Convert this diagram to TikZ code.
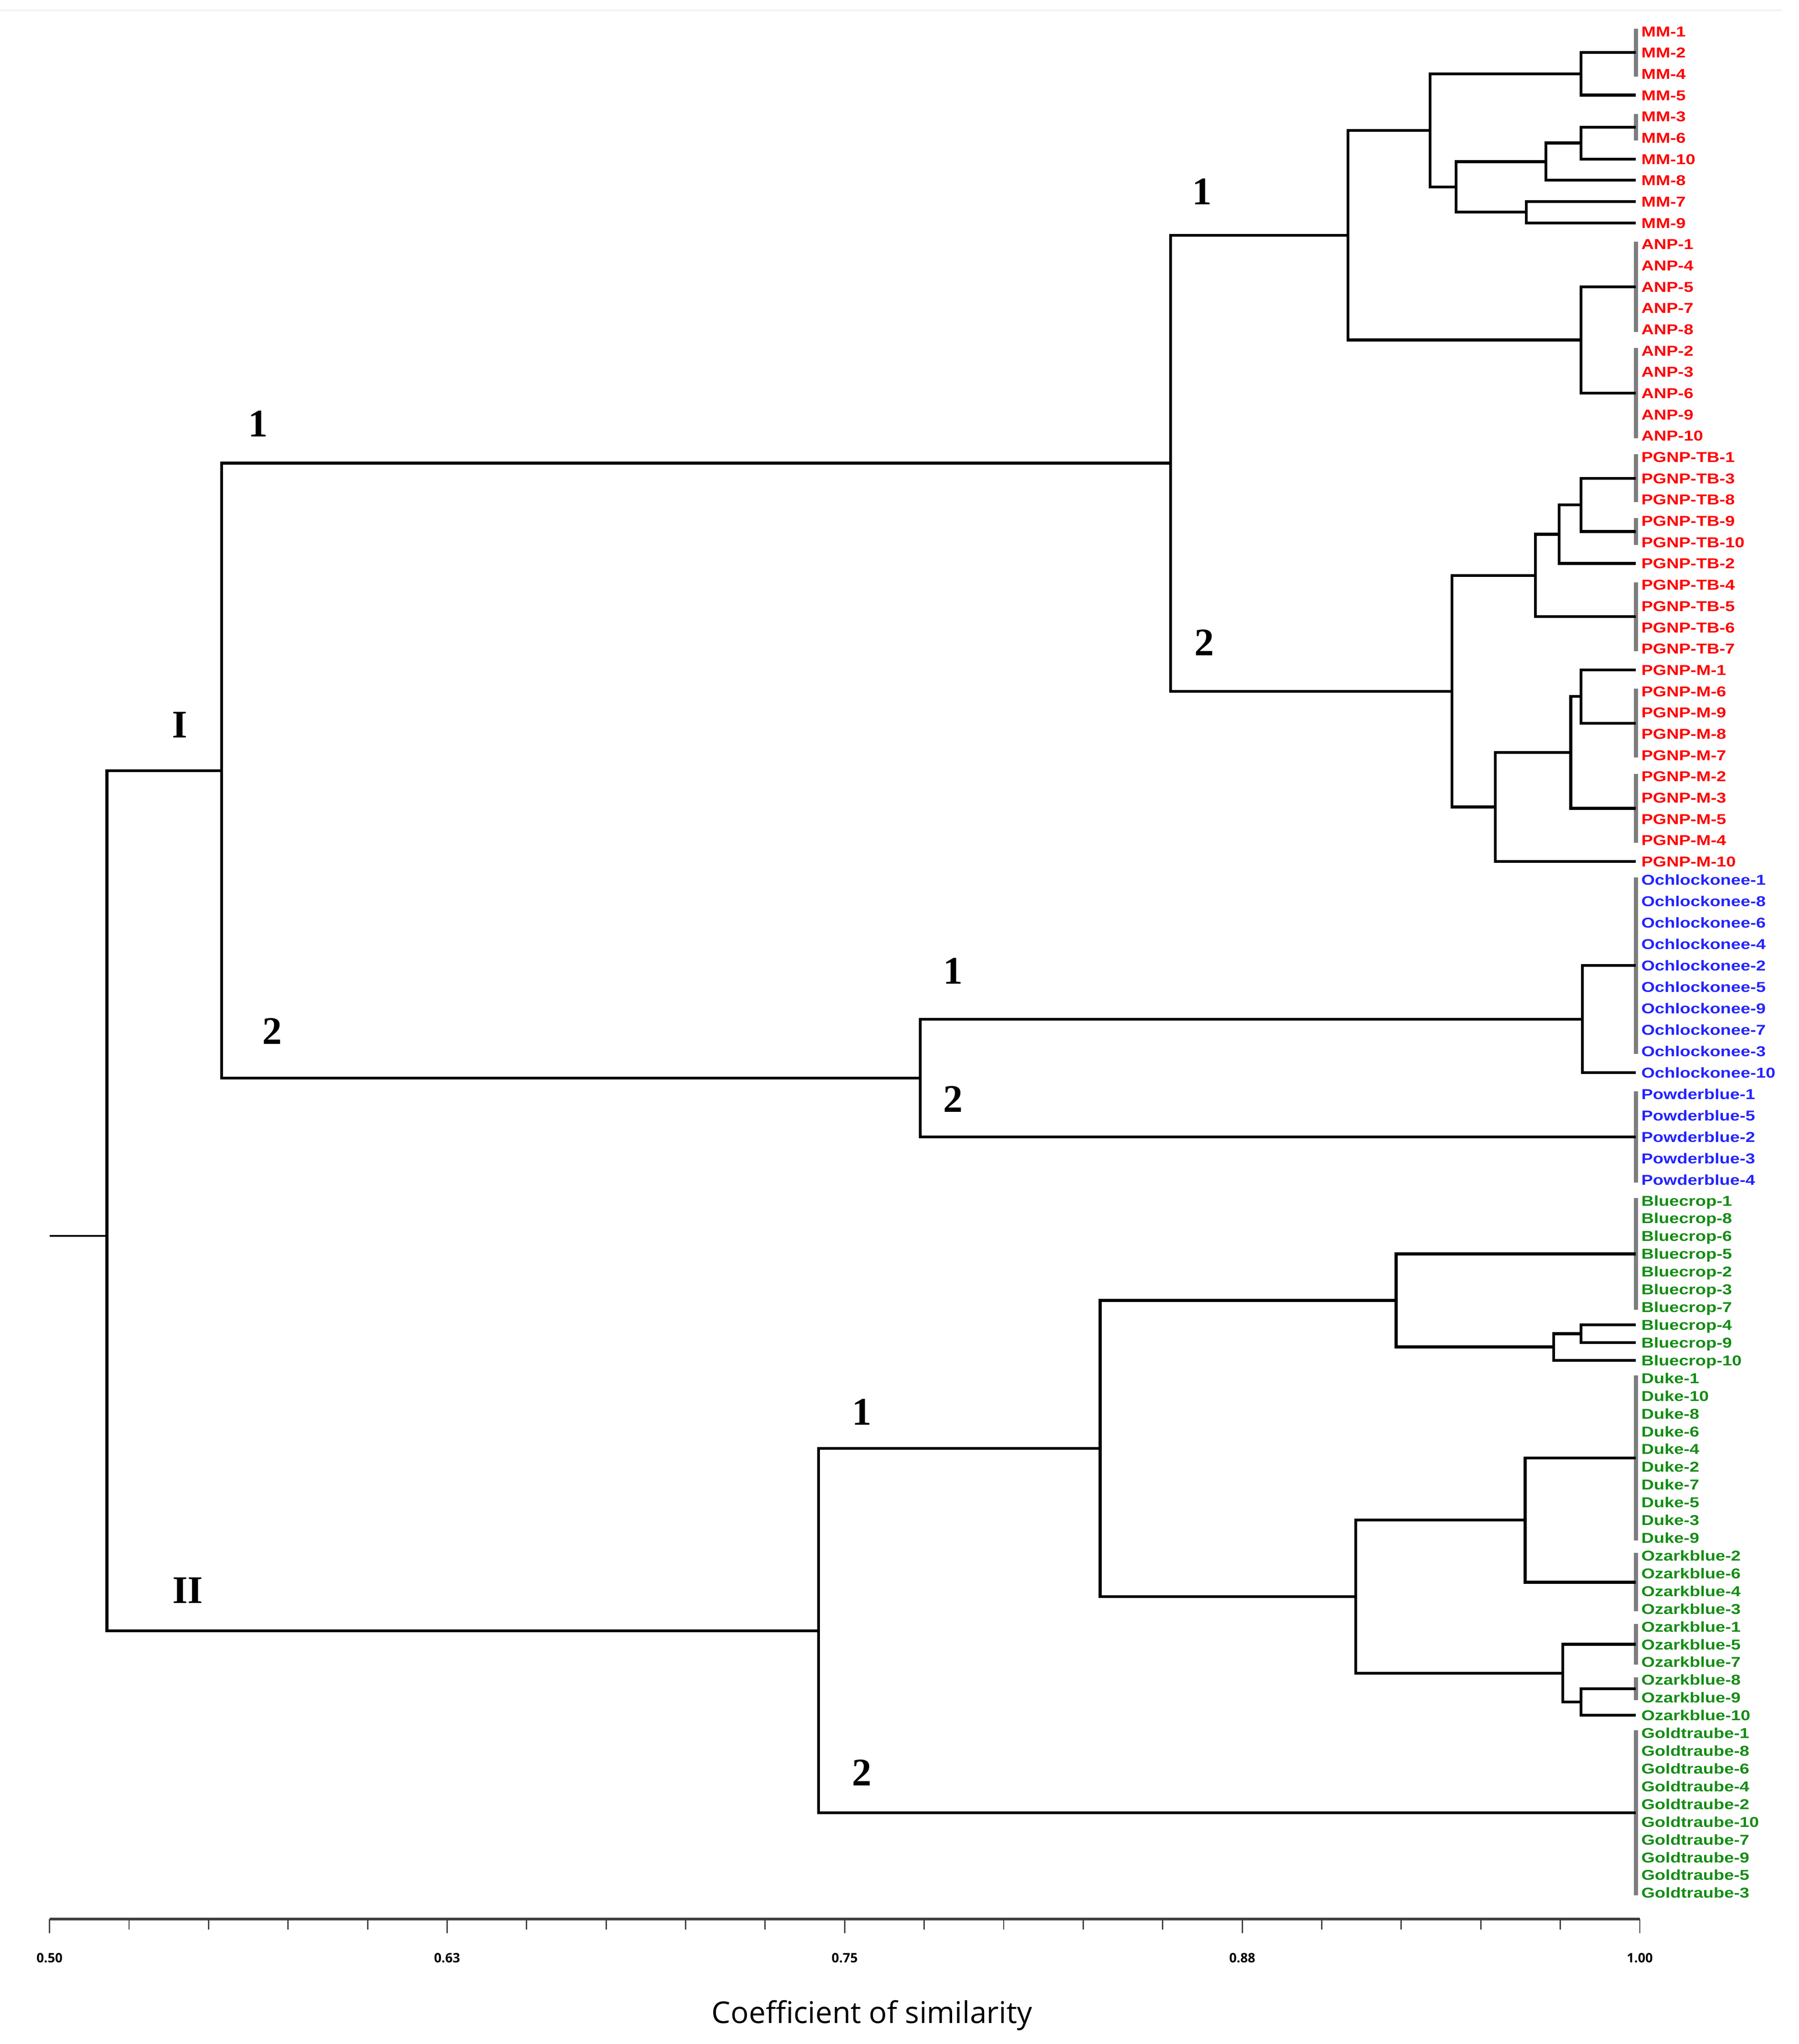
\documentclass[tikz,border=0pt]{standalone}
\usepackage{fontspec}
\usepackage{tikz}
\usetikzlibrary{calc}
\newfontfamily\leaffont[FakeStretch=1.21]{Liberation Sans}
\newfontfamily\clusfont{Liberation Serif}
\newfontfamily\axisfont{Open Sans}
\definecolor{redleaf}{RGB}{255,0,0}
\definecolor{blueleaf}{RGB}{35,35,255}
\definecolor{greenleaf}{RGB}{20,140,20}
\definecolor{tiegray}{RGB}{125,125,125}

\begin{document}
\begin{tikzpicture}[x=1pt,y=-1pt,line join=miter]
  \tikzstyle{branch}=[draw=black,line width=2.2pt]
  \tikzstyle{tie}=[draw=tiegray,line width=3pt,shorten <=-2pt,shorten >=-2pt]
  \tikzstyle{leaf}=[anchor=west,inner xsep=4pt,inner ysep=0pt,text height=8pt,
                    text depth=0pt,font=\leaffont\bfseries\fontsize{11}{11}\selectfont]
  \tikzstyle{clus}=[font=\clusfont\bfseries\fontsize{30}{30}\selectfont]
  \tikzstyle{tick}=[font=\axisfont\bfseries\fontsize{10}{10}\selectfont]

  \useasboundingbox (0,0) rectangle (1380,1568);
  \draw[gray!12,line width=1pt] (0,8) -- (1367,8);

  % leaves
  \foreach \lab [count=\i from 0] in {MM-1,MM-2,MM-4,MM-5,MM-3,MM-6,MM-10,MM-8,MM-7,MM-9,
      ANP-1,ANP-4,ANP-5,ANP-7,ANP-8,ANP-2,ANP-3,ANP-6,ANP-9,ANP-10,
      PGNP-TB-1,PGNP-TB-3,PGNP-TB-8,PGNP-TB-9,PGNP-TB-10,PGNP-TB-2,PGNP-TB-4,PGNP-TB-5,PGNP-TB-6,PGNP-TB-7,
      PGNP-M-1,PGNP-M-6,PGNP-M-9,PGNP-M-8,PGNP-M-7,PGNP-M-2,PGNP-M-3,PGNP-M-5,PGNP-M-4,PGNP-M-10}
    \node[leaf,text=redleaf] (\lab) at (1255,{24+16.33*\i}) {\lab};
  \foreach \lab [count=\i from 0] in {Ochlockonee-1,Ochlockonee-8,Ochlockonee-6,Ochlockonee-4,
      Ochlockonee-2,Ochlockonee-5,Ochlockonee-9,Ochlockonee-7,Ochlockonee-3,Ochlockonee-10,
      Powderblue-1,Powderblue-5,Powderblue-2,Powderblue-3,Powderblue-4}
    \node[leaf,text=blueleaf] (\lab) at (1255,{675+16.43*\i}) {\lab};
  \foreach \lab [count=\i from 0] in {Bluecrop-1,Bluecrop-8,Bluecrop-6,Bluecrop-5,Bluecrop-2,
      Bluecrop-3,Bluecrop-7,Bluecrop-4,Bluecrop-9,Bluecrop-10,
      Duke-1,Duke-10,Duke-8,Duke-6,Duke-4,Duke-2,Duke-7,Duke-5,Duke-3,Duke-9,
      Ozarkblue-2,Ozarkblue-6,Ozarkblue-4,Ozarkblue-3,Ozarkblue-1,Ozarkblue-5,Ozarkblue-7,
      Ozarkblue-8,Ozarkblue-9,Ozarkblue-10,
      Goldtraube-1,Goldtraube-8,Goldtraube-6,Goldtraube-4,Goldtraube-2,Goldtraube-10,
      Goldtraube-7,Goldtraube-9,Goldtraube-5,Goldtraube-3}
    \node[leaf,text=greenleaf] (\lab) at (1255,{921+13.615*\i}) {\lab};

  % identical samples
  \foreach \a/\b/\g in {MM-1/MM-4/gMMa, MM-3/MM-6/gMMb, ANP-1/ANP-8/gANPa, ANP-2/ANP-10/gANPb,
      PGNP-TB-1/PGNP-TB-8/gTBa, PGNP-TB-9/PGNP-TB-10/gTBb, PGNP-TB-4/PGNP-TB-7/gTBc,
      PGNP-M-6/PGNP-M-7/gMa, PGNP-M-2/PGNP-M-4/gMb, Ochlockonee-1/Ochlockonee-3/gOch,
      Powderblue-1/Powderblue-4/gPow, Bluecrop-1/Bluecrop-7/gBlue, Duke-1/Duke-9/gDuke,
      Ozarkblue-2/Ozarkblue-3/gOza, Ozarkblue-1/Ozarkblue-7/gOzb, Ozarkblue-8/Ozarkblue-9/gOzc,
      Goldtraube-1/Goldtraube-3/gGold}
  {
    \draw[tie] (\a.west) -- (\b.west);
    \coordinate (\g) at ($(\a.west)!0.5!(\b.west)$);
  }

  % cluster I, subcluster 1
  \coordinate (k1) at (1213,56.7);   \draw[branch] (k1) |- (gMMa) (k1) |- (MM-5);
  \coordinate (k2) at (1213,109.7);  \draw[branch] (k2) |- (gMMb) (k2) |- (MM-10);
  \coordinate (k3) at (1186,124);    \draw[branch] (k3) |- (k2) (k3) |- (MM-8);
  \coordinate (k4) at (1171,162.8);  \draw[branch] (k4) |- (MM-7) (k4) |- (MM-9);
  \coordinate (k5) at (1117,143.4);  \draw[branch] (k5) |- (k3) (k5) |- (k4);
  \coordinate (k6) at (1097,100);    \draw[branch] (k6) |- (k1) (k6) |- (k5);
  \coordinate (k7) at (1213,260.8);  \draw[branch] (k7) |- (gANPa) (k7) |- (gANPb);
  \coordinate (k8) at (1034,180.4);  \draw[branch] (k8) |- (k6) (k8) |- (k7);
  \coordinate (k9) at (1213,387.3);  \draw[branch] (k9) |- (gTBa) (k9) |- (gTBb);
  \coordinate (k10) at (1196,409.8); \draw[branch] (k10) |- (k9) (k10) |- (PGNP-TB-2);
  \coordinate (k11) at (1178,441.5); \draw[branch] (k11) |- (k10) (k11) |- (gTBc);
  \coordinate (k12) at (1213,534.3); \draw[branch] (k12) |- (PGNP-M-1) (k12) |- (gMa);
  \coordinate (k13) at (1205,577.2); \draw[branch] (k13) |- (k12) (k13) |- (gMb);
  \coordinate (k14) at (1147,619);   \draw[branch] (k14) |- (k13) (k14) |- (PGNP-M-10);
  \coordinate (k15) at (1114,530.3); \draw[branch] (k15) |- (k11) (k15) |- (k14);
  \coordinate (k16) at (898,355.3);  \draw[branch] (k16) |- (k8) (k16) |- (k15);
  % cluster I, subcluster 2
  \coordinate (k17) at (1214,781.8); \draw[branch] (k17) |- (gOch) (k17) |- (Ochlockonee-10);
  \coordinate (k18) at (706,827);    \draw[branch] (k18) |- (k17) (k18) |- (gPow);
  \coordinate (k19) at (170,591.2);  \draw[branch] (k19) |- (k16) (k19) |- (k18);
  % cluster II
  \coordinate (k20) at (1213,1023.1); \draw[branch] (k20) |- (Bluecrop-4) (k20) |- (Bluecrop-9);
  \coordinate (k21) at (1192,1033.3); \draw[branch] (k21) |- (k20) (k21) |- (Bluecrop-10);
  \coordinate (k22) at (1071,997.6);  \draw[branch] (k22) |- (gBlue) (k22) |- (k21);
  \coordinate (k23) at (1170,1166);   \draw[branch] (k23) |- (gDuke) (k23) |- (gOza);
  \coordinate (k24) at (1213,1305.6); \draw[branch] (k24) |- (gOzc) (k24) |- (Ozarkblue-10);
  \coordinate (k25) at (1199,1283.5); \draw[branch] (k25) |- (gOzb) (k25) |- (k24);
  \coordinate (k26) at (1040,1224.8); \draw[branch] (k26) |- (k23) (k26) |- (k25);
  \coordinate (k27) at (844,1111.2);  \draw[branch] (k27) |- (k22) (k27) |- (k26);
  \coordinate (k28) at (628,1251);    \draw[branch] (k28) |- (k27) (k28) |- (gGold);
  % root
  \coordinate (root) at (82,948);
  \coordinate (stub) at (38,948);
  \draw[branch] (root) |- (k19) (root) |- (k28);
  \draw[black,line width=1.2pt] (stub) -- (root);

  % cluster labels
  \node[clus] (cI)  at (138,556)  {I};
  \node[clus] (cII) at (144,1220) {II};
  \node[clus] (a1)  at (198,325)  {1};
  \node[clus] (a2)  at (209,791)  {2};
  \node[clus] (b1)  at (922,147)  {1};
  \node[clus] (b2)  at (924,493)  {2};
  \node[clus] (c1)  at (731,745)  {1};
  \node[clus] (c2)  at (731,843)  {2};
  \node[clus] (d1)  at (661,1083) {1};
  \node[clus] (d2)  at (661,1360) {2};

  % axis
  \coordinate (ax0) at (38,1472);
  \coordinate (ax1) at (1258,1472);
  \draw[black!75,line width=2pt] (ax0) -- (ax1);
  \foreach \k in {0,...,20}
    \draw[black!75,line width=1pt] ({38+61*\k},1472) -- ++(0,8);
  \foreach \k/\v in {0/0.50,5/0.63,10/0.75,15/0.88,20/1.00}
  {
    \draw[black!75,line width=1pt] ({38+61*\k},1472) -- ++(0,11);
    \node[tick] (t\k) at ({38+61*\k},1502) {\v};
  }
  \node[font=\axisfont\fontsize{23}{23}\selectfont] (xtitle) at (669,1546) {Coefficient of similarity};
\end{tikzpicture}
\end{document}
